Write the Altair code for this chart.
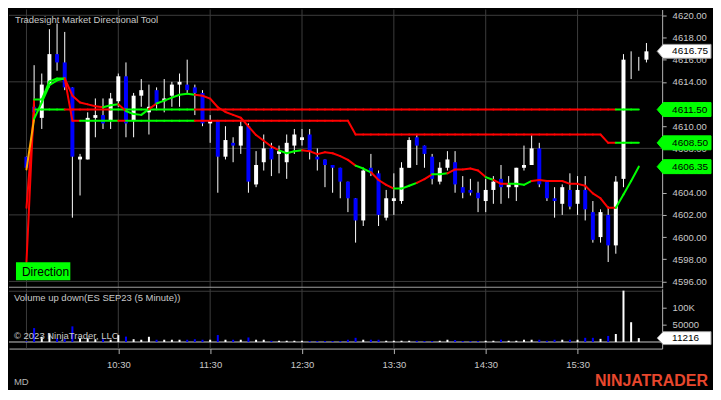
import altair as alt
import pandas as pd

# ---------------- data ----------------
opens = [4607.25, 4611.75, 4610.75, 4613.75, 4616.5, 4615.75, 4613.5, 4607.0, 4607.0, 4610.75,
         4611.0, 4610.5, 4612.25, 4614.5, 4610.5, 4612.75, 4611.25, 4613.25, 4612.25, 4612.75,
         4613.75, 4613.75, 4613.5, 4613.0, 4610.25, 4610.5, 4607.25, 4608.5, 4608.25, 4610.0,
         4604.75, 4606.75, 4608.0, 4607.5, 4606.75, 4608.25, 4608.75, 4609.25, 4607.25, 4607.0,
         4606.5, 4606.25, 4605.0, 4603.5, 4601.5, 4606.25, 4605.75, 4601.75, 4603.25, 4603.25,
         4606.25, 4609.0, 4608.25, 4607.25, 4605.0, 4606.25, 4606.75, 4604.5, 4604.25, 4604.0,
         4603.25, 4604.25, 4605.25, 4604.5, 4604.5, 4606.25, 4606.5, 4608.0, 4605.0, 4603.5,
         4603.0, 4604.25, 4603.0, 4604.25, 4602.25, 4600.0, 4602.0, 4599.25, 4605.25, 4615.5,
         4615.5, 4616.0]
highs = [4607.25, 4615.5, 4614.75, 4618.75, 4619.25, 4618.5, 4613.5, 4607.5, 4611.25, 4612.5,
         4612.5, 4613.0, 4614.75, 4615.75, 4613.0, 4614.25, 4613.75, 4613.5, 4614.25, 4614.0,
         4614.75, 4616.0, 4613.75, 4613.25, 4611.0, 4610.5, 4610.0, 4609.0, 4610.5, 4610.25,
         4607.75, 4609.25, 4608.5, 4608.25, 4609.25, 4609.75, 4609.75, 4609.75, 4608.0, 4607.0,
         4606.5, 4606.25, 4605.0, 4603.5, 4606.25, 4607.5, 4606.0, 4604.25, 4605.75, 4606.75,
         4609.0, 4609.25, 4608.25, 4607.5, 4606.75, 4607.75, 4607.75, 4605.5, 4605.25, 4605.0,
         4605.25, 4605.5, 4606.5, 4605.5, 4606.25, 4608.25, 4609.25, 4608.5, 4605.0, 4604.5,
         4604.75, 4605.75, 4605.5, 4605.5, 4603.25, 4602.5, 4602.75, 4605.5, 4616.5, 4616.75,
         4616.25, 4617.5]
lows = [4606.25, 4610.75, 4609.75, 4613.5, 4615.0, 4613.25, 4601.75, 4603.75, 4607.0, 4609.0,
        4609.75, 4609.75, 4611.75, 4609.0, 4609.0, 4611.75, 4609.25, 4611.5, 4611.25, 4611.75,
        4611.75, 4613.0, 4611.0, 4610.0, 4608.5, 4604.0, 4607.0, 4606.75, 4607.5, 4604.0,
        4604.5, 4606.0, 4605.5, 4605.75, 4605.25, 4607.5, 4608.25, 4607.0, 4606.0, 4604.5,
        4604.0, 4603.5, 4602.25, 4599.5, 4601.0, 4605.5, 4601.0, 4601.5, 4602.0, 4603.0,
        4606.25, 4606.5, 4606.25, 4604.75, 4604.75, 4606.0, 4604.0, 4603.5, 4603.75, 4602.25,
        4602.25, 4603.0, 4603.0, 4603.5, 4603.25, 4606.0, 4606.5, 4604.5, 4603.25, 4601.75,
        4602.0, 4602.5, 4602.0, 4601.5, 4599.5, 4599.5, 4597.75, 4598.5, 4604.5, 4614.25,
        4615.0, 4615.75]
closes = [4606.25, 4611.25, 4613.75, 4616.5, 4615.75, 4613.5, 4607.25, 4607.25, 4610.75, 4611.0,
          4610.25, 4612.5, 4614.5, 4610.25, 4612.75, 4613.25, 4611.75, 4612.0, 4612.5, 4613.75,
          4614.0, 4613.25, 4613.0, 4610.25, 4610.5, 4607.25, 4608.75, 4608.25, 4610.0, 4605.0,
          4606.5, 4608.0, 4607.0, 4607.75, 4608.5, 4609.25, 4609.0, 4607.75, 4607.0, 4606.5,
          4606.25, 4605.0, 4603.5, 4601.5, 4606.0, 4605.75, 4602.0, 4603.5, 4603.5, 4606.25,
          4608.75, 4608.25, 4607.5, 4605.25, 4606.25, 4607.0, 4604.75, 4604.0, 4604.0, 4603.5,
          4604.25, 4605.0, 4604.5, 4604.75, 4606.25, 4606.5, 4608.0, 4604.75, 4603.5, 4603.25,
          4604.5, 4602.75, 4604.25, 4602.5, 4599.75, 4602.25, 4599.25, 4605.0, 4616.0, 4615.5,
          4615.5, 4616.75]
volumes = [2000, 40000, 15000, 25000, 11000, 8000, 45000, 11000, 11000, 8000,
           8000, 6500, 20000, 15500, 8000, 6500, 15000, 6500, 6500, 6500,
           6500, 6500, 8000, 6500, 6500, 20000, 6500, 6500, 6500, 13000,
           6500, 6500, 3600, 3600, 3600, 3600, 3600, 2800, 2800, 2800,
           2800, 2800, 6500, 12000, 6500, 6500, 6500, 3600, 3600, 3600,
           3600, 3600, 2800, 2800, 3600, 6500, 5500, 2800, 2800, 2800,
           3600, 3600, 6500, 3600, 3600, 6500, 6500, 6500, 3600, 6500,
           6500, 6500, 6500, 12000, 12000, 9000, 17500, 23000, 148000, 57000,
           11216]
ma_values = [4606.10, 4610.67, 4612.14, 4613.70, 4614.13, 4614.30, 4612.75, 4612.14, 4611.97, 4611.80,
             4611.71, 4611.88, 4611.97, 4611.36, 4611.10, 4611.02, 4611.54, 4612.05, 4612.31, 4612.57,
             4612.83, 4612.92, 4612.83, 4612.75, 4612.49, 4611.71, 4611.28, 4611.02, 4610.76, 4609.98,
             4609.20, 4608.69, 4608.17, 4607.82, 4607.56, 4607.74, 4607.82, 4607.74, 4607.48, 4607.65,
             4607.56, 4607.30, 4606.96, 4606.44, 4606.18, 4605.84, 4605.15, 4604.71, 4604.37, 4604.37,
             4604.63, 4604.89, 4605.23, 4605.66, 4605.66, 4605.75, 4606.10, 4606.10, 4606.18, 4606.01,
             4605.41, 4605.15, 4604.80, 4604.80, 4604.80, 4604.71, 4605.06, 4605.15, 4605.06, 4605.06,
             4605.06, 4604.80, 4604.80, 4604.63, 4603.94, 4603.50, 4602.64, 4602.64, 4603.85, 4605.06,
             4606.35]
ma_trend = list("n" "uuuu" "ddddd" "uu" "d" "uuu" "d" "uuuuu" "ddddddddddd" "uuu" "ddddddd"
                "uu" "ddd" "uuu" "dd" "uu" "ddddd" "u" "dd" "uuu" "ddddddddddd" "uuu")
upper_values = [4602.64, 4611.5, 4611.5, 4611.5, 4611.5, 4611.5, 4611.5, 4611.5, 4611.5, 4611.5,
                4611.5, 4611.5, 4611.5, 4611.5, 4611.5, 4611.5, 4611.5, 4611.5, 4611.5, 4611.5,
                4611.5, 4611.5, 4611.5, 4611.5, 4611.5, 4611.5, 4611.5, 4611.5, 4611.5, 4611.5,
                4611.5, 4611.5, 4611.5, 4611.5, 4611.5, 4611.5, 4611.5, 4611.5, 4611.5, 4611.5,
                4611.5, 4611.5, 4611.5, 4611.5, 4611.5, 4611.5, 4611.5, 4611.5, 4611.5, 4611.5,
                4611.5, 4611.5, 4611.5, 4611.5, 4611.5, 4611.5, 4611.5, 4611.5, 4611.5, 4611.5,
                4611.5, 4611.5, 4611.5, 4611.5, 4611.5, 4611.5, 4611.5, 4611.5, 4611.5, 4611.5,
                4611.5, 4611.5, 4611.5, 4611.5, 4611.5, 4611.5, 4611.5, 4611.5, 4611.5, 4611.5,
                4611.5]
upper_trend = list("d" "uuuu" "dddddd" "uuuuuuuuuuu" + "d" * 55 + "uuu")
lower_values = [4597.75, 4612.4, 4612.4, 4614.04, 4614.3, 4614.3, 4610.5, 4610.5, 4610.5, 4610.5,
                4610.5, 4610.5, 4610.5, 4610.5, 4610.5, 4610.5, 4610.5, 4610.5, 4610.5, 4610.5,
                4610.5, 4610.5, 4610.5, 4610.5, 4610.5, 4610.5, 4610.5, 4610.5, 4610.5, 4610.5,
                4610.5, 4610.5, 4610.5, 4610.5, 4610.5, 4610.5, 4610.5, 4610.5, 4610.5, 4610.5,
                4610.5, 4610.5, 4610.5, 4609.25, 4609.25, 4609.25, 4609.25, 4609.25, 4609.25, 4609.25,
                4609.25, 4609.25, 4609.25, 4609.25, 4609.25, 4609.25, 4609.25, 4609.25, 4609.25, 4609.25,
                4609.25, 4609.25, 4609.25, 4609.25, 4609.25, 4609.25, 4609.25, 4609.25, 4609.25, 4609.25,
                4609.25, 4609.25, 4609.25, 4609.25, 4609.25, 4609.25, 4608.5, 4608.5, 4608.5, 4608.5,
                4608.5]
lower_trend = list("d" "uuuu" "dd" "uuuuu" "d" "uuuuuuuuu" + "d" * 55 + "uuu")

price_ticks = [4596, 4598, 4600, 4602, 4604, 4606, 4608, 4610, 4612, 4614, 4616, 4618, 4620]
price_grid = [4596, 4602, 4608, 4614, 4620]
bar_grid = [0, 12, 24, 36, 48, 60, 72]
hour_ticks = [12, 24, 36, 48, 60, 72]
hour_labels = ["10:30", "11:30", "12:30", "13:30", "14:30", "15:30"]
last_price = [4616.75]
level_markers = [4611.50, 4608.50, 4606.35]
last_volume = [11216]
volume_ticks = [50000, 100000]

# ---------------- style ----------------
BG = "#000000"
GRID = "#3c3c3c"
AXIS = "#b4b4b4"
TXT = "#c8c8c8"
UP = "#ffffff"
DOWN = "#0000ff"
GREEN = "#00ff00"
RED = "#ff0000"
ORANGE = "#ffa500"
FONT = "Liberation Sans"

TOP_W, TOP_H = 655, 279
BOT_H = 60

xs = alt.Scale(domain=[-1.63, 82.4], nice=False, zero=False)
ys = alt.Scale(domain=[4595.43, 4620.52], nice=False, zero=False)
vs = alt.Scale(domain=[-18970, 153450], nice=False, zero=False)

MARK_PATH = "M-1,0 L-0.778,-0.259 L1,-0.259 L1,0.259 L-0.778,0.259 Z"
MARK_PATH_V = "M-1,0 L-0.778,-0.24 L1,-0.24 L1,0.24 L-0.778,0.24 Z"

# ---------------- axes (same object on every layer so they merge) ----------------
y_axis = alt.Axis(orient="right", values=price_ticks, format=".2f", grid=False, title=None,
                  labelColor=TXT, labelFont=FONT, labelFontSize=9.5, tickColor=AXIS,
                  tickSize=4, labelPadding=6, domainColor=AXIS, labelFlush=False,
                  labelOverlap=False)
time_expr = " : ".join(f"datum.value == {t} ? '{l}'" for t, l in zip(hour_ticks, hour_labels)) + " : ''"
x_axis = alt.Axis(values=hour_ticks, labelExpr=time_expr, grid=False, title=None,
                  labelColor=TXT, labelFont=FONT, labelFontSize=9.5, tickColor=AXIS,
                  tickSize=5, labelPadding=6, domainColor=AXIS, labelFlush=False)
v_axis = alt.Axis(orient="right", values=volume_ticks, grid=False, title=None,
                  labelExpr="datum.value >= 100000 ? format(datum.value / 1000, 'd') + 'K' : format(datum.value, 'd')",
                  labelColor=TXT, labelFont=FONT, labelFontSize=9.5, tickColor=AXIS,
                  tickSize=4, labelPadding=6, domainColor=AXIS, labelFlush=False)

# ---------------- tables ----------------
n = len(opens)
candles = pd.DataFrame({"i": list(range(n)), "open": opens, "high": highs,
                        "low": lows, "close": closes})
candles["col"] = [UP if c >= o else DOWN for o, c in zip(opens, closes)]

vol = pd.DataFrame({"i": list(range(len(volumes))), "vol": volumes,
                    "col": list(candles["col"][:len(volumes)])})

trend_col = {"u": GREEN, "d": RED, "n": ORANGE}


def segments(vals, trend):
    return pd.DataFrame([{"x": k, "x2": k + 1, "y": vals[k], "y2": vals[k + 1],
                          "col": trend_col[trend[k]]} for k in range(len(vals) - 1)])


def text_layer(s, x, y, size, color, align="left", weight="normal"):
    return alt.Chart(pd.DataFrame({"t": [s]})).mark_text(
        align=align, baseline="middle", font=FONT, fontSize=size, color=color,
        fontWeight=weight).encode(x=alt.value(x), y=alt.value(y), text="t:N")


one = pd.DataFrame({"a": [0]})

# ---------------- price panel ----------------
PX = dict(scale=xs, axis=None)
PY = dict(scale=ys, axis=y_axis)

hgrid = alt.Chart(pd.DataFrame({"p": price_grid})).mark_rule(color=GRID, strokeWidth=1).encode(
    y=alt.Y("p:Q", **PY))
vgrid = alt.Chart(pd.DataFrame({"i": bar_grid})).mark_rule(color=GRID, strokeWidth=1).encode(
    x=alt.X("i:Q", **PX))
border = alt.Chart(one).mark_rule(color="#a0a0a0", strokeWidth=1).encode(y=alt.value(TOP_H - 0.5))

wicks = alt.Chart(candles).mark_rule(color=UP, strokeWidth=1).encode(
    x=alt.X("i:Q", **PX), y=alt.Y("low:Q", **PY), y2="high:Q")
bodies = alt.Chart(candles).mark_bar(size=4).encode(
    x=alt.X("i:Q", **PX), y=alt.Y("open:Q", **PY), y2="close:Q",
    color=alt.Color("col:N", scale=None))


def seg_layer(df):
    return alt.Chart(df).mark_rule(strokeWidth=2, strokeCap="round").encode(
        x=alt.X("x:Q", **PX), x2="x2:Q",
        y=alt.Y("y:Q", **PY), y2="y2:Q",
        color=alt.Color("col:N", scale=None))


upper_l = seg_layer(segments(upper_values, upper_trend))
lower_l = seg_layer(segments(lower_values, lower_trend))
ma_l = seg_layer(segments(ma_values, ma_trend))

marks_df = pd.DataFrame({"p": last_price + level_markers,
                         "fill": [UP] + [GREEN] * len(level_markers),
                         "stroke": ["#9a9a9a"] + [GREEN] * len(level_markers)})
marker_boxes = alt.Chart(marks_df).mark_point(shape=MARK_PATH, size=2916, filled=True,
                                              opacity=1, strokeWidth=1).encode(
    x=alt.value(677), y=alt.Y("p:Q", **PY),
    fill=alt.Fill("fill:N", scale=None), stroke=alt.Stroke("stroke:N", scale=None))
marker_text = alt.Chart(marks_df).mark_text(align="left", baseline="middle", font=FONT,
                                            fontSize=10, color="#000000").encode(
    x=alt.value(665), y=alt.Y("p:Q", **PY),
    text=alt.Text("p:Q", format=".2f"))

dir_box = alt.Chart(one).mark_rect(color=GREEN).encode(
    x=alt.value(7), x2=alt.value(61.5), y=alt.value(253.5), y2=alt.value(271.5))

top = alt.layer(
    hgrid, vgrid, border, wicks, bodies, upper_l, lower_l, ma_l,
    text_layer("Tradesight Market Directional Tool", 6, 10.5, 9.5, TXT),
    dir_box, text_layer("Direction", 13, 263, 12, "#000000"),
    marker_boxes, marker_text,
).properties(width=TOP_W, height=TOP_H)

# ---------------- volume panel ----------------
VX = dict(scale=xs, axis=x_axis)
VY = dict(scale=vs, axis=v_axis)

vgrid2 = alt.Chart(pd.DataFrame({"i": bar_grid})).mark_rule(color=GRID, strokeWidth=1).encode(
    x=alt.X("i:Q", **VX))
top_line = alt.Chart(one).mark_rule(color=GRID, strokeWidth=1).encode(y=alt.value(2.5))
baseline = alt.Chart(pd.DataFrame({"v": [0]})).mark_rule(color="#c8c8c8", strokeWidth=1).encode(
    y=alt.Y("v:Q", **VY))
vbars = alt.Chart(vol).mark_bar(size=2).encode(
    x=alt.X("i:Q", **VX), y=alt.Y("vol:Q", **VY), y2=alt.datum(0),
    color=alt.Color("col:N", scale=None))

vmark_df = pd.DataFrame({"v": last_volume})
vmark_box = alt.Chart(vmark_df).mark_point(shape=MARK_PATH_V, size=2916, filled=True, opacity=1,
                                           strokeWidth=1, fill=UP, stroke="#9a9a9a").encode(
    x=alt.value(677), y=alt.Y("v:Q", **VY))
vmark_text = alt.Chart(vmark_df).mark_text(align="left", baseline="middle", font=FONT,
                                           fontSize=10, color="#000000").encode(
    x=alt.value(665), y=alt.Y("v:Q", **VY), text=alt.Text("v:Q", format="d"))

bottom = alt.layer(
    vgrid2, top_line, baseline, vbars,
    text_layer("Volume up down(ES SEP23 (5 Minute))", 5, 9, 9.5, TXT),
    text_layer("\u00a9 2023 NinjaTrader, LLC", 5, 47, 9.5, TXT),
    text_layer("MD", 5, 94, 9.5, "#b4b4b4"),
    text_layer("NINJATRADER", 701, 92.5, 16, "#e8472d", align="right", weight="bold"),
    vmark_box, vmark_text,
).properties(width=TOP_W, height=BOT_H)

chart = alt.vconcat(top, bottom, spacing=1, bounds="flush").properties(
    padding=0, background=BG
).configure_view(stroke=None)

chart.save("out.html", embed_options={"renderer": "svg", "actions": False})
